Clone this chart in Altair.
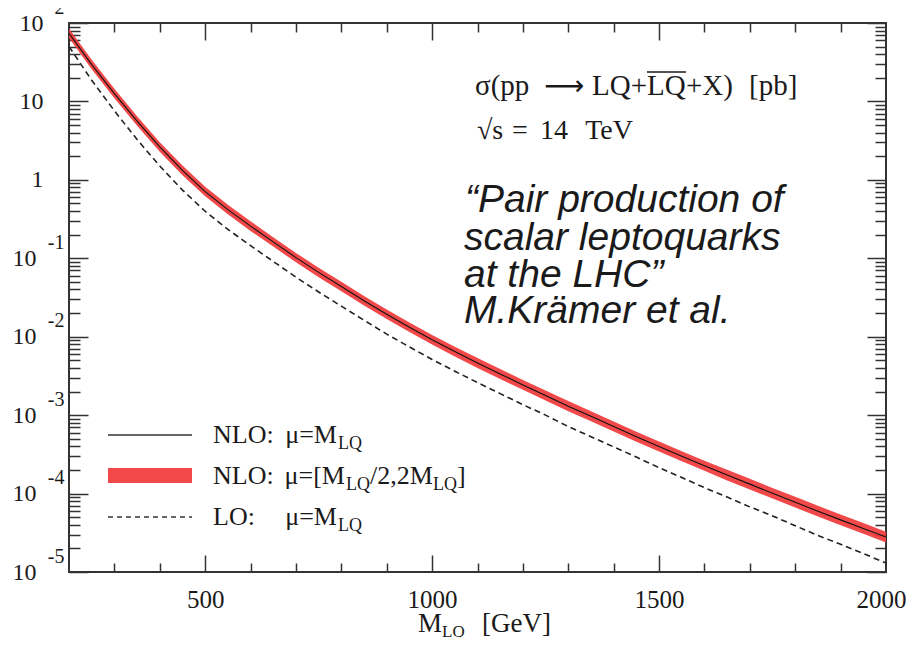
import altair as alt
import pandas as pd

SERIF = "Liberation Serif"
SANS = "Liberation Sans"
RED = "#f03a3a"
INK = "#1a1a1a"
FRAME = "#333333"

# ---------------- data ----------------
mass = [200, 250, 300, 350, 400, 450, 500, 550, 600, 650, 700, 750, 800, 850, 900, 950,
        1000, 1050, 1100, 1150, 1200, 1250, 1300, 1350, 1400, 1450, 1500, 1550, 1600,
        1650, 1700, 1750, 1800, 1850, 1900, 1950, 2000]
nlo = [74.1, 29.5, 12.6, 5.62, 2.63, 1.32, 0.708, 0.417, 0.257, 0.162, 0.102, 0.0661,
       0.0437, 0.0288, 0.0193, 0.0132, 0.00912, 0.00646, 0.00462, 0.00335, 0.00243,
       0.00178, 0.00130, 9.66e-4, 7.16e-4, 5.31e-4, 3.98e-4, 2.99e-4, 2.26e-4, 1.72e-4,
       1.32e-4, 1.01e-4, 7.76e-5, 5.96e-5, 4.62e-5, 3.59e-5, 2.79e-5]
nlo_band_hi = [85.2, 33.9, 14.5, 6.46, 3.02, 1.52, 0.814, 0.480, 0.296, 0.186, 0.117, 0.0760,
               0.0503, 0.0331, 0.0222, 0.0152, 0.01049, 0.00746, 0.00534, 0.00387, 0.00281,
               0.00206, 0.00151, 1.121e-3, 8.31e-4, 6.16e-4, 4.62e-4, 3.47e-4, 2.62e-4, 2.01e-4,
               1.54e-4, 1.18e-4, 9.08e-5, 6.97e-5, 5.41e-5, 4.20e-5, 3.26e-5]
nlo_band_lo = [64.4, 25.7, 11.0, 4.89, 2.29, 1.148, 0.616, 0.363, 0.223, 0.141, 0.0887, 0.0575,
               0.0380, 0.0250, 0.0168, 0.01148, 0.00793, 0.00559, 0.00400, 0.00290, 0.00210,
               0.00154, 0.00112, 8.33e-4, 6.17e-4, 4.58e-4, 3.43e-4, 2.58e-4, 1.95e-4, 1.47e-4,
               1.13e-4, 8.63e-5, 6.63e-5, 5.09e-5, 3.95e-5, 3.07e-5, 2.38e-5]
lo = [50.1, 18.6, 7.59, 3.27, 1.50, 0.741, 0.398, 0.234, 0.145, 0.0912, 0.0575, 0.0372,
      0.0245, 0.0162, 0.0108, 0.00741, 0.00513, 0.00363, 0.00260, 0.00188, 0.00136,
      0.00100, 7.16e-4, 5.31e-4, 3.94e-4, 2.92e-4, 2.14e-4, 1.60e-4, 1.19e-4, 9.02e-5,
      6.76e-5, 5.19e-5, 3.89e-5, 2.92e-5, 2.26e-5, 1.72e-5, 1.30e-5]

# axis tick values / labels
x_label_values = [500, 1000, 1500, 2000]
x_tick_values = [300, 400, 500, 600, 700, 800, 900, 1000, 1100, 1200, 1300, 1400,
                 1500, 1600, 1700, 1800, 1900]
y_upper_values = [100, 10, 1]
y_upper_labels = ["10", "10", "1"]
y_lower_values = [0.1, 0.01, 0.001, 0.0001, 0.00001]
y_exp_values = [100, 0.1, 0.01, 0.001, 0.0001, 0.00001]
y_exp_labels = ["2", "-1", "-2", "-3", "-4", "-5"]
y_decades = [100, 10, 1, 0.1, 0.01, 0.001, 0.0001, 0.00001]
y_minor_mult = [2, 3, 4, 5, 6, 7, 8, 9]
y_tick_values = y_decades + [m * d for d in y_decades[1:] for m in y_minor_mult]

df = pd.DataFrame({"m": mass, "nlo": nlo, "hi": nlo_band_hi, "lo_band": nlo_band_lo, "lo": lo})

W, H = 817, 549


def lookup_expr(values, labels):
    parts = []
    for v, lab in zip(values, labels):
        parts.append(f"abs(datum.value/{v!r} - 1) < 0.01 ? '{lab}'")
    return " : ".join(parts) + " : ''"


xs = alt.Scale(domain=[200, 2000], nice=False, zero=False)
ys = alt.Scale(type="log", domain=[1e-5, 100], nice=False)

decade_test = "abs(log(datum.value)/LN10 - round(log(datum.value)/LN10)) < 0.001"

ax_x_labels = alt.Axis(orient="bottom", values=x_label_values, title=None, ticks=False, tickSize=0,
                       domain=False, grid=False, labelFont=SERIF, labelFontSize=25, labelColor=INK,
                       format="d", labelBaseline="alphabetic", labelPadding=35, labelFlush=False,
                       labelOverlap=False,
                       labelOffset={"condition": {"test": "datum.value === 2000", "value": -5}, "value": 0})
ax_x_in_bottom = alt.Axis(orient="top", offset=-H, values=x_tick_values, title=None, labels=False,
                          domain=False, grid=False, tickColor=FRAME, tickWidth=1.5,
                          tickSize={"condition": {"test": "datum.value % 500 === 0", "value": 17}, "value": 9})
ax_x_in_top = alt.Axis(orient="bottom", offset=-H, values=x_tick_values, title=None, labels=False,
                       domain=False, grid=False, tickColor=FRAME, tickWidth=1.5,
                       tickSize={"condition": {"test": "datum.value % 500 === 0", "value": 17}, "value": 9})

ax_y_upper = alt.Axis(orient="left", values=y_upper_values, labelExpr=lookup_expr(y_upper_values, y_upper_labels),
                      title=None, ticks=False, tickSize=0, domain=False, grid=False, labelFont=SERIF,
                      labelFontSize=24, labelColor=INK, labelAlign="right", labelBaseline="middle",
                      labelPadding=26, labelFlush=False, labelOverlap=False, labelBound=False)
ax_y_lower = alt.Axis(orient="left", values=y_lower_values, labelExpr="'10'",
                      title=None, ticks=False, tickSize=0, domain=False, grid=False, labelFont=SERIF,
                      labelFontSize=24, labelColor=INK, labelAlign="right", labelBaseline="middle",
                      labelPadding=33, labelFlush=False, labelOverlap=False, labelBound=False)
ax_y_exp = alt.Axis(orient="left", values=y_exp_values, labelExpr=lookup_expr(y_exp_values, y_exp_labels),
                    title=None, ticks=False, tickSize=0, domain=False, grid=False, labelFont=SERIF,
                    labelFontSize=20, labelColor=INK, labelAlign="right", labelBaseline="middle",
                    labelPadding=5, labelOffset=-16, labelFlush=False, labelOverlap=False, labelBound=False)
ax_y_in_left = alt.Axis(orient="right", offset=-W, values=y_tick_values, title=None, labels=False,
                        domain=False, grid=False, tickColor=FRAME, tickWidth=1.5,
                        tickSize={"condition": {"test": decade_test, "value": 19}, "value": 11})
ax_y_in_right = alt.Axis(orient="left", offset=-W, values=y_tick_values, title=None, labels=False,
                         domain=False, grid=False, tickColor=FRAME, tickWidth=1.5,
                         tickSize={"condition": {"test": decade_test, "value": 19}, "value": 11})

base = alt.Chart(df)

band = base.mark_area(color=RED, opacity=0.92, clip=True).encode(
    x=alt.X("m:Q", scale=xs, axis=ax_x_labels),
    y=alt.Y("lo_band:Q", scale=ys, axis=ax_y_upper),
    y2="hi:Q",
)
nlo_line = base.mark_line(color="#111111", strokeWidth=1.1, clip=True).encode(
    x=alt.X("m:Q", scale=xs, axis=ax_x_in_bottom),
    y=alt.Y("nlo:Q", scale=ys, axis=ax_y_in_left),
)
lo_line = base.mark_line(color="#222222", strokeWidth=1.6, strokeDash=[6, 4], clip=True).encode(
    x=alt.X("m:Q", scale=xs, axis=ax_x_in_top),
    y=alt.Y("lo:Q", scale=ys, axis=ax_y_in_right),
)
ghost1 = base.mark_line(opacity=0).encode(
    x=alt.X("m:Q", scale=xs, axis=None),
    y=alt.Y("nlo:Q", scale=ys, axis=ax_y_lower),
)
ghost2 = base.mark_line(opacity=0).encode(
    x=alt.X("m:Q", scale=xs, axis=None),
    y=alt.Y("nlo:Q", scale=ys, axis=ax_y_exp),
)

blank = alt.Data(values=[{"k": 0}])


def txt(s, x, y, size, font=SERIF, style="normal", align="left"):
    return alt.Chart(blank).mark_text(text=s, font=font, fontSize=size, fontStyle=style, align=align,
                                      baseline="alphabetic", color=INK).encode(
        x=alt.value(x), y=alt.value(y))


def hrule(x1, x2, y, width=1.2, dash=None, color=INK):
    kw = dict(color=color, strokeWidth=width)
    if dash:
        kw["strokeDash"] = dash
    return alt.Chart(blank).mark_rule(**kw).encode(x=alt.value(x1), x2=alt.value(x2), y=alt.value(y))


# plot origin is page (69, 23)
anno = [
    # sigma(pp -> LQ + LQbar + X) [pb]
    txt("σ(pp", 406, 72, 29),
    txt("⟶", 495, 72, 28, font="DejaVu Sans", align="center"),
    txt("LQ+", 523, 72, 29),
    txt("LQ", 578, 72, 29),
    hrule(578, 617, 49, width=1.3),
    txt("+X)", 617, 72, 29),
    txt("[pb]", 680, 72, 29),
    txt("√s", 408, 116, 28),
    txt("=", 451, 116, 28, align="center"),
    txt("14", 471, 116, 28),
    txt("TeV", 564, 116, 28, align="right"),
    # italic citation
    txt("“Pair production of", 396, 189, 39, font=SANS, style="italic"),
    txt("scalar leptoquarks", 395, 227, 39, font=SANS, style="italic"),
    txt("at the LHC”", 395, 264, 39, font=SANS, style="italic"),
    txt("M.Krämer et al.", 395, 300, 39, font=SANS, style="italic"),
    # legend
    hrule(39, 123, 412, width=1.3, color="#333333"),
    alt.Chart(blank).mark_rect(color=RED, opacity=0.92).encode(
        x=alt.value(39), x2=alt.value(123), y=alt.value(445), y2=alt.value(460)),
    hrule(39, 123, 494, width=1.4, dash=[5, 4], color="#333333"),
    txt("NLO:", 144, 420, 26),
    txt("μ=M", 268, 420, 26, align="right"),
    txt("LQ", 269, 426, 18),
    txt("NLO:", 144, 461, 26),
    txt("μ=[M", 276, 461, 26, align="right"),
    txt("LQ", 277, 467, 18),
    txt("/2,2M", 301, 461, 26),
    txt("LQ", 364, 467, 18),
    txt("]", 388, 461, 26),
    txt("LO:", 144, 502, 26),
    txt("μ=M", 268, 502, 26, align="right"),
    txt("LQ", 269, 508, 18),
    # x title
    txt("M", 349, 609, 27),
    txt("LQ", 373, 614, 17),
    txt("[GeV]", 413, 609, 27),
]

chart = alt.layer(band, nlo_line, lo_line, ghost1, ghost2, *anno).resolve_axis(
    x="independent", y="independent"
).properties(
    width=W, height=H,
    padding={"left": 61, "top": 15, "right": 20, "bottom": 65},
    autosize=alt.AutoSizeParams(type="none"),
    background="white",
).configure_view(stroke=FRAME, strokeWidth=2)

chart.save("out.html", embed_options={"renderer": "svg", "actions": False})
